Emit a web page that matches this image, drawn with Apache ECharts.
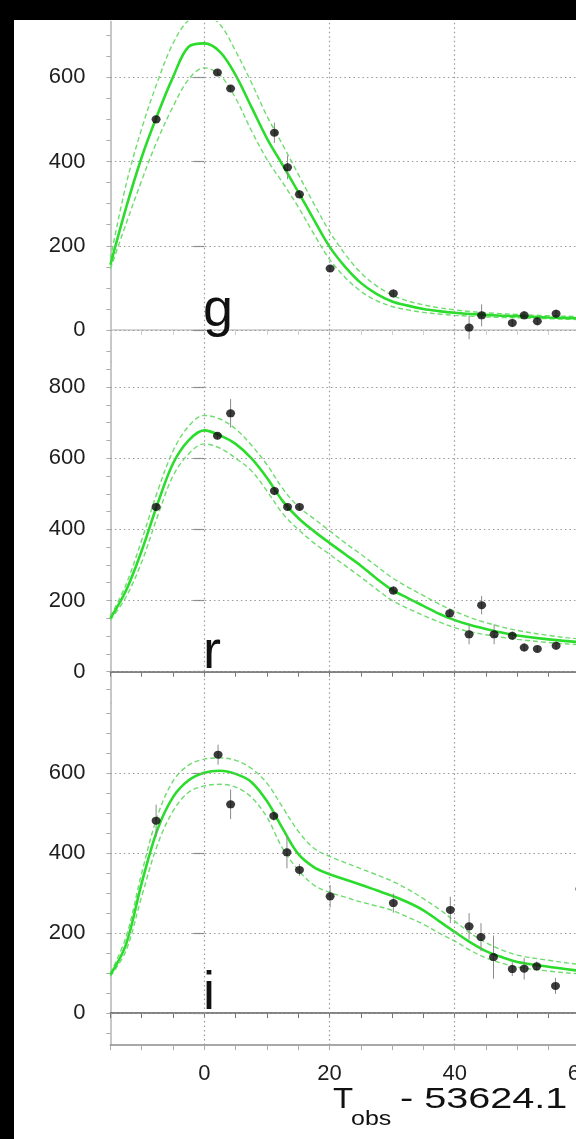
<!DOCTYPE html>
<html>
<head>
<meta charset="utf-8">
<script src="https://cdn.jsdelivr.net/npm/echarts@6/dist/echarts.min.js"></script>
<style>
  html, body { margin: 0; padding: 0; background: #000; }
  #chart { width: 576px; height: 1139px; }
</style>
</head>
<body>
<div id="chart"></div>
<script>
// Days since MJD 53624.1 at which the model light curves are tabulated
const modelDays = [-15, -12.5, -10, -7.5, -5, -2.5, 0, 2.5, 5, 7.5, 10, 12.5, 15, 17.5, 20,
  22.5, 25, 27.5, 30, 32.5, 35, 37.5, 40, 42.5, 45, 47.5, 50, 55, 60, 70];

// g band: photometry and model (best fit, upper and lower envelope)
const gDays = [-7.7, 2.1, 4.2, 11.2, 13.3, 15.2, 20.1, 30.2, 42.3, 44.3, 49.2, 51.1, 53.2, 56.2];
const gFlux = [500, 611, 573, 468, 386, 322, 146, 87, 6, 35, 17, 35, 21, 39];
const gErr  = [10, 6, 8, 24, 28, 10, 8, 10, 28, 26, 10, 10, 10, 10];
const gModel = [155, 290, 410, 510, 600, 672, 680, 660, 605, 530, 455, 392, 328, 262, 198,
  150, 112, 86, 68, 58, 50, 45, 41, 38, 36, 34, 33, 30, 28, 25];
const gUpper = [170, 345, 478, 588, 680, 735, 748, 725, 662, 588, 508, 440, 370, 300, 234,
  180, 136, 105, 83, 69, 60, 53, 48, 44, 41, 39, 37, 34, 32, 28];
const gLower = [145, 252, 355, 450, 530, 595, 622, 605, 550, 474, 405, 350, 292, 228, 168,
  125, 92, 70, 56, 48, 42, 38, 35, 33, 31, 30, 29, 27, 25, 22];

// r band
const rDays = [-7.7, 2.1, 4.2, 11.2, 13.3, 15.2, 30.2, 39.2, 42.3, 44.3, 46.3, 49.2, 51.1, 53.2, 56.2];
const rFlux = [463, 663, 726, 508, 463, 463, 228, 164, 105, 187, 105, 101, 68, 64, 73];
const rErr  = [12, 10, 40, 12, 10, 10, 12, 14, 28, 26, 28, 12, 12, 10, 12];
const rModel = [150, 228, 340, 470, 585, 650, 678, 664, 640, 600, 545, 480, 432, 395, 362,
  330, 298, 262, 230, 207, 185, 163, 145, 131, 120, 110, 102, 91, 83, 74];
const rUpper = [155, 245, 370, 505, 620, 690, 720, 710, 682, 637, 582, 515, 464, 430, 396,
  362, 330, 297, 264, 238, 214, 190, 170, 152, 138, 126, 116, 102, 92, 82];
const rLower = [145, 210, 308, 435, 550, 612, 640, 628, 600, 565, 508, 445, 400, 362, 330,
  298, 266, 232, 200, 178, 158, 140, 124, 112, 104, 97, 91, 82, 76, 68];

// i band
const iDays = [-7.7, 2.2, 4.2, 11.1, 13.2, 15.2, 20.1, 30.2, 39.3, 42.3, 44.2, 46.2, 49.2, 51.1, 53.1, 56.1, 60.0];
const iFlux = [481, 646, 522, 493, 402, 358, 292, 275, 258, 217, 190, 140, 110, 111, 117, 68, 310];
const iErr  = [40, 25, 37, 12, 40, 15, 28, 24, 33, 33, 35, 54, 17, 27, 12, 20, 20];
const iModel = [96, 172, 325, 458, 540, 582, 601, 606, 598, 578, 530, 462, 398, 365, 347,
  334, 321, 307, 293, 277, 257, 230, 203, 177, 155, 140, 128, 116, 106, 98];
const iUpper = [100, 190, 350, 492, 580, 620, 635, 638, 632, 612, 575, 515, 455, 412, 392,
  376, 361, 346, 330, 310, 286, 260, 230, 200, 176, 158, 145, 132, 122, 112];
const iLower = [92, 156, 292, 420, 505, 552, 568, 572, 565, 540, 490, 412, 358, 320, 302,
  290, 278, 268, 257, 240, 222, 200, 180, 157, 138, 125, 115, 105, 98, 90];

// Axis ticks
const xGridValues = [0, 20, 40, 60, 80, 100];
const yLabels = {
  g: [0, 200, 400, 600],
  r: [0, 200, 400, 600, 800],
  i: [0, 200, 400, 600]
};

const X_MIN = -15, X_MAX = 100;
const PX_PER_DAY = 6.26;
const GRID_LEFT = 110.4;
const GRID_WIDTH = (X_MAX - X_MIN) * PX_PER_DAY;
const LABEL_FONT = 'Liberation Sans';

const panels = [
  { name: 'g', days: gDays, flux: gFlux, err: gErr, model: gModel, up: gUpper, lo: gLower,
    yMin: -75, yMax: 732, top: 21.5, height: 340.2, topLine: '#c8c8c8' },
  { name: 'r', days: rDays, flux: rFlux, err: rErr, model: rModel, up: rUpper, lo: rLower,
    yMin: -87, yMax: 871, top: 361.7, height: 341.0, topLine: '#5a5a5a' },
  { name: 'i', days: iDays, flux: iFlux, err: iErr, model: iModel, up: iUpper, lo: iLower,
    yMin: -80, yMax: 776, top: 702.7, height: 342.4, topLine: '#5a5a5a' }
];

const pairs = (xs, ys) => xs.map((x, k) => [x, ys[k]]);
const minorTicks = (lo, hi) => {
  const out = [];
  for (let v = Math.ceil(lo / 50) * 50; v <= hi; v += 50) out.push(v);
  return out;
};

const grid = [], xAxis = [], yAxis = [], series = [], graphic = [];

// white plotting page over the black surround
graphic.push({
  type: 'rect', silent: true, z: -10,
  shape: { x: 14, y: 20, width: 562, height: 1119 },
  style: { fill: '#ffffff' }
});

panels.forEach((p, k) => {
  const last = k === panels.length - 1;
  grid.push({
    left: GRID_LEFT, top: p.top, width: GRID_WIDTH, height: p.height,
    right: 576 - GRID_LEFT - GRID_WIDTH,
    containLabel: false, outerBoundsMode: 'none'
  });

  // top frame with inward minor ticks every 5 days
  xAxis.push({
    type: 'value', gridIndex: k, position: 'top', min: X_MIN, max: X_MAX, interval: 5,
    axisLine: { lineStyle: { color: p.topLine, width: 1.5 } },
    axisTick: { inside: true, length: 5, lineStyle: { color: k === 0 ? '#d0d0d0' : '#777', width: 1 } },
    axisLabel: { show: false }, splitLine: { show: false }
  });
  // bottom axis: labelled only on the lowest panel
  xAxis.push({
    type: 'value', gridIndex: k, position: 'bottom', min: X_MIN, max: X_MAX, interval: 5,
    axisLine: { show: last, onZero: false, lineStyle: { color: '#8c8c8c', width: 1.5 } },
    axisTick: { show: last, length: 5, lineStyle: { color: '#aaa', width: 1 } },
    axisLabel: {
      show: last, margin: 18, color: '#1e1e1e', fontSize: 22, fontFamily: LABEL_FONT,
      formatter: v => (v % 20 === 0 ? String(v) : '')
    },
    splitLine: { show: false }
  });

  // left axis: short ticks every 50
  yAxis.push({
    type: 'value', gridIndex: k, position: 'left', min: p.yMin, max: p.yMax,
    axisLine: { show: true, onZero: false, lineStyle: { color: '#b4b4b4', width: 1.5 } },
    axisTick: { show: true, length: 4, customValues: minorTicks(p.yMin, p.yMax), lineStyle: { color: '#aaa' } },
    axisLabel: { show: false }, splitLine: { show: false }
  });
  // left axis: labelled long ticks every 200
  yAxis.push({
    type: 'value', gridIndex: k, position: 'left', min: p.yMin, max: p.yMax,
    axisLine: { show: false },
    axisTick: { show: true, length: 11, customValues: yLabels[p.name], lineStyle: { color: '#888', width: 1.2 } },
    axisLabel: {
      customValues: yLabels[p.name], margin: 25, color: '#1e1e1e', fontSize: 22,
      fontFamily: LABEL_FONT
    },
    splitLine: { show: false }
  });

  const xi = 2 * k + 1, yi = 2 * k;

  // dotted reference grid
  series.push({
    type: 'line', xAxisIndex: xi, yAxisIndex: yi, data: [[X_MIN, p.yMin]], symbol: 'none',
    lineStyle: { opacity: 0 }, silent: true, animation: false, z: 1,
    markLine: {
      silent: true, symbol: ['none', 'none'], label: { show: false }, animation: false,
      lineStyle: { type: [1.5, 3], color: '#9a9a9a', width: 1.2 },
      data: xGridValues.map(v => ({ xAxis: v })).concat(yLabels[p.name].map(v => ({ yAxis: v })))
    }
  });

  const band = (vals) => ({
    type: 'line', xAxisIndex: xi, yAxisIndex: yi, data: pairs(modelDays, vals),
    smooth: 0.35, symbol: 'none', animation: false, silent: true, z: 2,
    lineStyle: { color: '#6fdc6f', width: 1.4, type: [5, 3] }
  });
  series.push(band(p.up));
  series.push(band(p.lo));
  series.push({
    type: 'line', xAxisIndex: xi, yAxisIndex: yi, data: pairs(modelDays, p.model),
    smooth: 0.35, symbol: 'none', animation: false, silent: true, z: 3,
    lineStyle: { color: '#2cdc2c', width: 2.6 }
  });

  // error bars
  series.push({
    type: 'custom', xAxisIndex: xi, yAxisIndex: yi, animation: false, silent: true, z: 4,
    data: p.days.map((d, j) => [d, p.flux[j], p.err[j]]),
    encode: { x: 0, y: 1 },
    renderItem: (params, api) => {
      const x = api.value(0), y = api.value(1), e = api.value(2);
      const a = api.coord([x, y - e]), b = api.coord([x, y + e]);
      return { type: 'line', shape: { x1: a[0], y1: a[1], x2: b[0], y2: b[1] },
        style: { stroke: '#8a8a8a', lineWidth: 1 } };
    }
  });
  // photometric points
  series.push({
    type: 'scatter', xAxisIndex: xi, yAxisIndex: yi, data: pairs(p.days, p.flux),
    symbol: 'circle', symbolSize: [9, 8], animation: false, silent: true, z: 5,
    itemStyle: { color: '#0a0a0a' }
  });
});

// filter names
const letterPos = [
  { t: 'g', x: 203, y: 311 },
  { t: 'r', x: 203, y: 653 },
  { t: 'i', x: 203, y: 994 }
];
letterPos.forEach(l => graphic.push({
  type: 'text', silent: true, z: 10,
  style: { text: l.t, x: l.x, y: l.y, font: '54px "Liberation Sans"', fill: '#111', verticalAlign: 'middle' }
}));

// x-axis title: T_obs - 53624.1
graphic.push({
  type: 'text', silent: true, z: 10, x: 333, y: 1100, scaleX: 1.1,
  style: { text: 'T', x: 0, y: 0, font: '30px "Liberation Sans"', fill: '#111', verticalAlign: 'middle' }
});
graphic.push({
  type: 'text', silent: true, z: 10, x: 351, y: 1119, scaleX: 1.25,
  style: { text: 'obs', x: 0, y: 0, font: '20px "Liberation Sans"', fill: '#111', verticalAlign: 'middle' }
});
graphic.push({
  type: 'text', silent: true, z: 10, x: 400, y: 1100, scaleX: 1.32,
  style: { text: '- 53624.1', x: 0, y: 0, font: '30px "Liberation Sans"', fill: '#111', verticalAlign: 'middle' }
});

const chart = echarts.init(document.getElementById('chart'), null, { renderer: 'canvas' });
chart.setOption({
  backgroundColor: '#000',
  animation: false,
  grid, xAxis, yAxis, series, graphic
});
</script>
</body>
</html>
